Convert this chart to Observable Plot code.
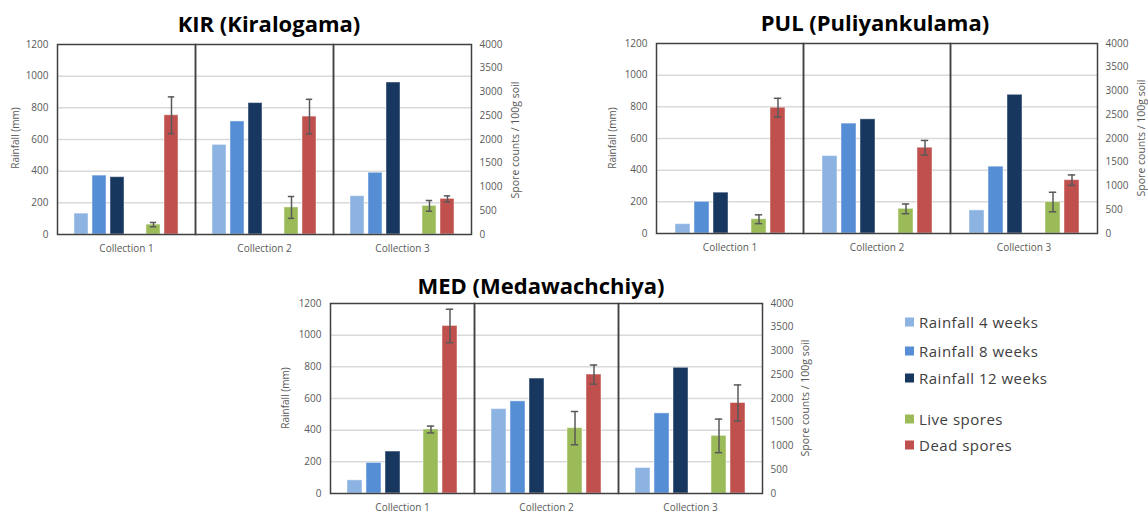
<!DOCTYPE html>
<html>
<head>
<meta charset="utf-8">
<script src="https://cdn.jsdelivr.net/npm/d3@7"></script>
<script src="https://cdn.jsdelivr.net/npm/@observablehq/plot@0.6"></script>
<style>
  html, body { margin: 0; padding: 0; background: #fff; }
  body { width: 1148px; height: 513px; position: relative; overflow: hidden; font-family: "Open Sans", sans-serif; }
  .abs { position: absolute; }
  .title { font-weight: bold; font-size: 22px; color: #000; transform: translate(-50%, -50%); white-space: nowrap; }
  .vt { font-size: 10px; color: #595959; transform: translate(-50%, -50%) rotate(-90deg); white-space: nowrap; }
  .vt.r { font-size: 10.5px; }
  .leg { font-size: 15px; color: #404040; letter-spacing: 0.5px; white-space: nowrap; transform: translateY(-50%); }
  .sw { width: 9px; height: 9px; transform: translateY(-50%); }
</style>
</head>
<body>
<script>
// ---------- data ----------
const collections = ["Collection 1", "Collection 2", "Collection 3"];
const seriesNames = ["Rainfall 4 weeks", "Rainfall 8 weeks", "Rainfall 12 weeks", "Live spores", "Dead spores"];
const seriesColors = ["#8db3e2", "#558ed5", "#17375e", "#9bbb59", "#c0504d"];
const rainTicks = [0, 200, 400, 600, 800, 1000, 1200];
const sporeTicks = [0, 500, 1000, 1500, 2000, 2500, 3000, 3500, 4000];
const rainMax = 1200, sporeMax = 4000;

// KIR (Kiralogama)
const kirRain4 = [132, 566, 242];
const kirRain8 = [372, 714, 390];
const kirRain12 = [362, 830, 960];
const kirLive = [208, 570, 603];
const kirLiveErr = [45, 230, 113];
const kirDead = [2510, 2482, 750];
const kirDeadErr = [387, 364, 63];

// PUL (Puliyankulama)
const pulRain4 = [59, 489, 146];
const pulRain8 = [200, 694, 422];
const pulRain12 = [258, 721, 876];
const pulLive = [300, 519, 662];
const pulLiveErr = [93, 102, 206];
const pulDead = [2648, 1806, 1123];
const pulDeadErr = [198, 153, 110];

// MED (Medawachchiya)
const medRain4 = [83, 533, 161];
const medRain8 = [193, 582, 506];
const medRain12 = [265, 726, 794];
const medLive = [1347, 1376, 1213];
const medLiveErr = [72, 350, 353];
const medDead = [3527, 2504, 1905];
const medDeadErr = [352, 201, 381];

// ---------- drawing ----------
const k = rainMax / sporeMax;
const xSlots = [seriesNames[0], seriesNames[1], seriesNames[2], "_gap", seriesNames[3], seriesNames[4]];

function panel(d, g) {
  const rows = [];
  collections.forEach((c, i) => {
    rows.push({c, s: seriesNames[0], v: d.r4[i]});
    rows.push({c, s: seriesNames[1], v: d.r8[i]});
    rows.push({c, s: seriesNames[2], v: d.r12[i]});
    rows.push({c, s: seriesNames[3], v: d.live[i] * k, lo: (d.live[i] - d.liveErr[i]) * k, hi: (d.live[i] + d.liveErr[i]) * k});
    rows.push({c, s: seriesNames[4], v: d.dead[i] * k, lo: (d.dead[i] - d.deadErr[i]) * k, hi: (d.dead[i] + d.deadErr[i]) * k});
  });
  const errs = rows.filter(r => r.lo != null);
  const errStyle = {stroke: "#595959", strokeWidth: 1.5};
  const svg = Plot.plot({
    width: g.width, height: g.height,
    marginLeft: g.ml, marginRight: g.mr, marginTop: g.mt, marginBottom: g.mb,
    style: {fontFamily: "Open Sans", fontSize: "10px", color: "#595959", background: "transparent", overflow: "visible"},
    fx: {domain: collections, padding: 0},
    x: {domain: xSlots, paddingInner: 0.22, paddingOuter: 0.86, axis: null},
    y: {domain: [0, rainMax]},
    color: {domain: seriesNames, range: seriesColors},
    marks: [
      Plot.gridY(rainTicks.slice(1, -1), {stroke: "#d9d9d9", strokeOpacity: 1, strokeWidth: 1.5}),
      Plot.barY(rows, {fx: "c", x: "s", y: "v", fill: "s", stroke: "#ffffff", strokeOpacity: 0.45, strokeWidth: 1}),
      Plot.ruleX(errs, {fx: "c", x: "s", y1: "lo", y2: "hi", ...errStyle}),
      Plot.tickY(errs, {fx: "c", x: "s", y: "lo", insetLeft: 3.8, insetRight: 3.8, ...errStyle}),
      Plot.tickY(errs, {fx: "c", x: "s", y: "hi", insetLeft: 3.8, insetRight: 3.8, ...errStyle}),
      Plot.frame({stroke: "#404040", strokeWidth: 1.5}),
      Plot.axisY({anchor: "left", ticks: rainTicks, tickFormat: v => String(v), tickSize: 0, tickPadding: 9, label: null}),
      Plot.axisY({anchor: "right", ticks: sporeTicks.map(t => t * k), tickFormat: v => String(Math.round(v / k)), tickSize: 0, tickPadding: 8, label: null}),
      Plot.axisFx({anchor: "bottom", tickSize: 0, tickPadding: 10, label: null, fontSize: 10})
    ]
  });
  svg.style.position = "absolute";
  svg.style.left = g.left + "px";
  svg.style.top = g.top + "px";
  document.body.appendChild(svg);

  const t = document.createElement("div");
  t.className = "abs title";
  t.style.left = g.tx + "px"; t.style.top = g.ty + "px";
  t.textContent = g.title;
  document.body.appendChild(t);

  const yl = document.createElement("div");
  yl.className = "abs vt";
  yl.style.left = g.ylx + "px"; yl.style.top = g.yly + "px";
  yl.textContent = "Rainfall (mm)";
  document.body.appendChild(yl);

  const yr = document.createElement("div");
  yr.className = "abs vt r";
  yr.style.left = g.yrx + "px"; yr.style.top = g.yry + "px";
  yr.textContent = "Spore counts / 100g soil";
  document.body.appendChild(yr);
}

panel({r4: kirRain4, r8: kirRain8, r12: kirRain12, live: kirLive, liveErr: kirLiveErr, dead: kirDead, deadErr: kirDeadErr},
  {left: 0, top: 0, width: 530, height: 270, ml: 56, mr: 59, mt: 44, mb: 36,
   title: "KIR (Kiralogama)", tx: 269, ty: 23, ylx: 15, yly: 138, yrx: 515, yry: 140});

panel({r4: pulRain4, r8: pulRain8, r12: pulRain12, live: pulLive, liveErr: pulLiveErr, dead: pulDead, deadErr: pulDeadErr},
  {left: 580, top: 0, width: 568, height: 270, ml: 75, mr: 51, mt: 43, mb: 37,
   title: "PUL (Puliyankulama)", tx: 875, ty: 22, ylx: 612, yly: 138, yrx: 1141, yry: 138});

panel({r4: medRain4, r8: medRain8, r12: medRain12, live: medLive, liveErr: medLiveErr, dead: medDead, deadErr: medDeadErr},
  {left: 270, top: 270, width: 560, height: 243, ml: 59, mr: 67, mt: 33, mb: 20,
   title: "MED (Medawachchiya)", tx: 541, ty: 285, ylx: 285, yly: 398, yrx: 805, yry: 398});

// legend
const legendRows = [322, 351, 378, 419, 445];
seriesNames.forEach((name, i) => {
  const sw = document.createElement("div");
  sw.className = "abs sw";
  sw.style.left = "905px"; sw.style.top = legendRows[i] + "px";
  sw.style.background = seriesColors[i];
  document.body.appendChild(sw);
  const tx = document.createElement("div");
  tx.className = "abs leg";
  tx.style.left = "919px"; tx.style.top = legendRows[i] + "px";
  tx.textContent = name;
  document.body.appendChild(tx);
});
</script>
</body>
</html>
